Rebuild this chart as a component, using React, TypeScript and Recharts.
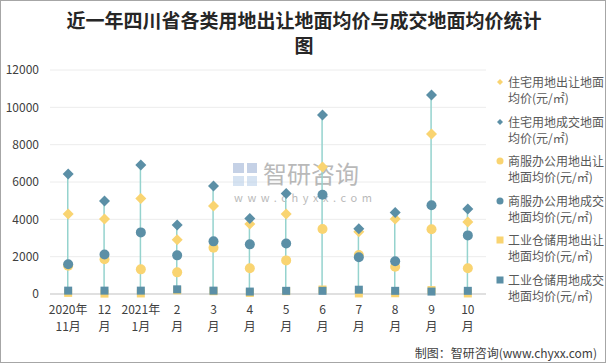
import React from "react";
import {
  Bar,
  CartesianGrid,
  ComposedChart,
  Line,
  XAxis,
  YAxis,
} from "recharts";

const months = [
  "2020年11月", "12月", "2021年1月", "2月", "3月", "4月",
  "5月", "6月", "7月", "8月", "9月", "10月",
];

const resSupply = [4290, 4020, 5120, 2910, 4710, 3750, 4290, 6800, 3340, 4020, 8570, 3860];
const resDeal = [6430, 4980, 6910, 3700, 5790, 4040, 5390, 9590, 3500, 4360, 10660, 4550];
const comSupply = [1520, 1860, 1320, 1160, 2480, 1380, 1800, 3480, 2090, 1460, 3470, 1380];
const comDeal = [1590, 2120, 3300, 2070, 2820, 2660, 2710, 5320, 1970, 1750, 4750, 3140];
const indSupply = [60, 20, 30, 200, 150, 60, 150, 240, 30, 40, 210, 30];
const indDeal = [180, 180, 180, 250, 180, 130, 170, 170, 230, 170, 130, 170];

const yTicks = [0, 2000, 4000, 6000, 8000, 10000, 12000];

const seriesNames = [
  "住宅用地出让地面均价(元/㎡)",
  "住宅用地成交地面均价(元/㎡)",
  "商服办公用地出让地面均价(元/㎡)",
  "商服办公用地成交地面均价(元/㎡)",
  "工业仓储用地出让地面均价(元/㎡)",
  "工业仓储用地成交地面均价(元/㎡)",
];

const YELLOW = "#f9d471";
const TEAL = "#5b8fa6";
const STEM = "#95d3ce";
const FONT = "'Noto Sans CJK SC', 'Noto Sans', sans-serif";

const data = months.map((m, i) => {
  const vals = [resSupply[i], resDeal[i], comSupply[i], comDeal[i], indSupply[i], indDeal[i]];
  return {
    month: m,
    resSupply: resSupply[i],
    resDeal: resDeal[i],
    comSupply: comSupply[i],
    comDeal: comDeal[i],
    indSupply: indSupply[i],
    indDeal: indDeal[i],
    range: [Math.min(...vals), Math.max(...vals)],
  };
});

type Shape = "diamond" | "circle" | "square";

const markers: { key: string; shape: Shape; color: string }[] = [
  { key: "resSupply", shape: "diamond", color: YELLOW },
  { key: "resDeal", shape: "diamond", color: TEAL },
  { key: "comSupply", shape: "circle", color: YELLOW },
  { key: "comDeal", shape: "circle", color: TEAL },
  { key: "indSupply", shape: "square", color: YELLOW },
  { key: "indDeal", shape: "square", color: TEAL },
];

function mark(shape: Shape, color: string, cx: number, cy: number, s: number, key?: string) {
  if (shape === "diamond") {
    return (
      <path
        key={key}
        d={`M${cx},${cy - s} L${cx + s},${cy} L${cx},${cy + s} L${cx - s},${cy} Z`}
        fill={color}
      />
    );
  }
  if (shape === "circle") {
    return <circle key={key} cx={cx} cy={cy} r={s} fill={color} />;
  }
  return <rect key={key} x={cx - s} y={cy - s} width={s * 2} height={s * 2} fill={color} />;
}

const dotFor = (shape: Shape, color: string, size: number) => (props: any) => {
  const { cx, cy, index } = props;
  if (cx == null || cy == null) return <g key={index} />;
  return mark(shape, color, cx, cy, size, `d${index}`);
};

function splitMonth(label: string) {
  if (label.includes("年")) {
    const k = label.indexOf("年") + 1;
    return [label.slice(0, k), label.slice(k)];
  }
  return [label.slice(0, -1), "月"];
}

const MonthTick = (props: any) => {
  const { x, y, payload } = props;
  const [a, b] = splitMonth(payload.value);
  return (
    <text x={x} y={y} textAnchor="middle" fill="#404040" fontSize={12} fontFamily={FONT}>
      <tspan x={x} dy={12}>{a}</tspan>
      <tspan x={x} dy={17}>{b}</tspan>
    </text>
  );
};

const LegendBox = () => (
  <div
    style={{
      position: "absolute",
      left: 494,
      top: 73,
      width: 112,
      fontFamily: FONT,
      fontSize: 12,
      color: "#595959",
    }}
  >
    {seriesNames.map((name, i) => {
      const m = markers[i];
      const s = m.shape === "diamond" ? 3 : 3.5;
      return (
        <div key={name} style={{ position: "relative", height: 39.6, lineHeight: "16px" }}>
          <svg width={10} height={10} style={{ position: "absolute", left: 0, top: 3 }}>
            {mark(m.shape, m.color, 5, 5, s)}
          </svg>
          <div style={{ marginLeft: 13, whiteSpace: "nowrap" }}>
            <div>{name.slice(0, 8)}</div>
            <div>{name.slice(8)}</div>
          </div>
        </div>
      );
    })}
  </div>
);

export default function App() {
  return (
    <div
      style={{
        position: "absolute",
        left: 0,
        top: 0,
        width: 606,
        height: 363,
        boxSizing: "border-box",
        border: "1px solid #a6a6a6",
        background: "#fff",
        overflow: "hidden",
      }}
    >
      <div
        style={{
          position: "absolute",
          left: 56,
          top: 6,
          width: 494,
          textAlign: "center",
          fontFamily: FONT,
          fontWeight: 700,
          fontSize: 19,
          lineHeight: "25px",
          color: "#262626",
        }}
      >
        近一年四川省各类用地出让地面均价与成交地面均价统计
        <br />图
      </div>
      <div style={{ position: "absolute", left: -1, top: -1 }}>
        <ComposedChart
          width={606}
          height={363}
          data={data}
          margin={{ top: 70, right: 120, left: 8, bottom: 39 }}
        >
          <CartesianGrid vertical={false} stroke="#ececec" />
          <XAxis
            dataKey="month"
            tick={<MonthTick />}
            tickLine={false}
            axisLine={{ stroke: "#d9d9d9", strokeWidth: 1.5 }}
            interval={0}
            height={30}
          />
          <YAxis
            domain={[0, 12000]}
            ticks={yTicks}
            width={42}
            tickLine={false}
            axisLine={false}
            tickSize={0}
            tickMargin={11}
            tick={{ fill: "#404040", fontSize: 12, fontFamily: FONT }}
          />
          <Bar dataKey="range" barSize={1.5} fill={STEM} isAnimationActive={false} legendType="none" />
          {markers.map((m) => {
            const size = m.shape === "diamond" ? 5.5 : m.shape === "circle" ? 5 : 4;
            return (
              <Line
                key={m.key}
                dataKey={m.key}
                stroke="none"
                dot={dotFor(m.shape, m.color, size)}
                activeDot={false}
                isAnimationActive={false}
                legendType="none"
              />
            );
          })}
          <g opacity={0.6}>
            <rect x={233} y={163} width={11} height={10} fill="#9fb3d6" />
            <rect x={247} y={163} width={10} height={10} fill="#9fb3d6" />
            <rect x={233} y={176} width={11} height={10} fill="#bcd2ea" />
            <rect x={247} y={176} width={10} height={10} fill="#bcd2ea" />
            <text x={263} y={183} fontSize={24} fill="#8c8c8c" fontFamily={FONT}>
              智研咨询
            </text>
            <text x={234} y={202} fontSize={11} fill="#8c8c8c" fontFamily={FONT} letterSpacing={4.6}>
              www.chyxx.com
            </text>
          </g>
        </ComposedChart>
      </div>
      <LegendBox />
      <div
        style={{
          position: "absolute",
          right: 8,
          top: 343,
          fontFamily: FONT,
          fontSize: 12,
          color: "#404040",
          whiteSpace: "nowrap",
        }}
      >
        制图：智研咨询(www.chyxx.com)
      </div>
    </div>
  );
}
